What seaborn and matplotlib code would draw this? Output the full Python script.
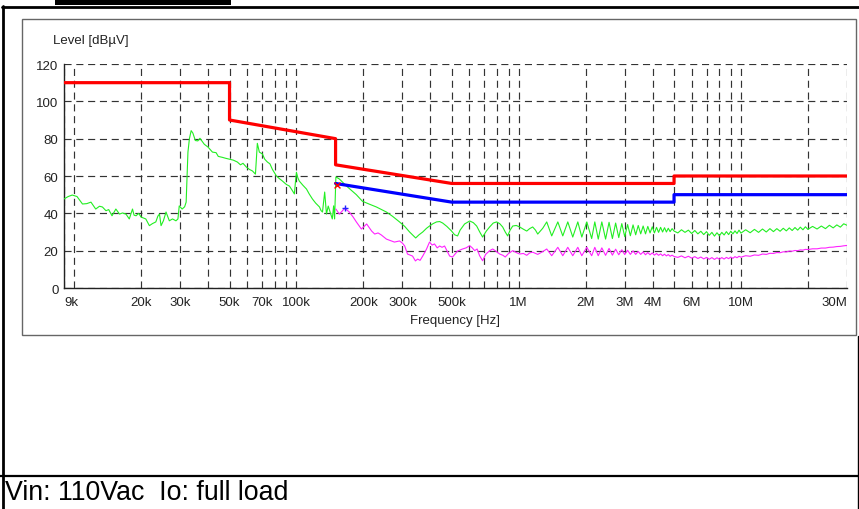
import numpy as np
import matplotlib
matplotlib.use("Agg")
import matplotlib.pyplot as plt
import seaborn as sns
from matplotlib.patches import Rectangle
from matplotlib.lines import Line2D

# ---------------- data ----------------
# limit lines (kHz, dBuV)
qp_limit_khz = [9, 50, 50, 150, 150, 500, 5000, 5000, 30000]
qp_limit_db = [110, 110, 90, 80, 66, 56, 56, 60, 60]
av_limit_khz = [150, 500, 5000, 5000, 30000]
av_limit_db = [56, 46, 46, 50, 50]

# peak trace, 9k - 150k (kHz, dBuV)
green_lf_khz = [9.0, 9.4, 9.8, 10.3, 10.9, 11.4, 11.9, 12.5, 13.0, 13.4, 13.9, 14.3, 14.8, 15.4,
                16.0, 16.5, 17.1, 17.7, 18.3, 18.6, 19.0, 19.5, 20.0, 20.5, 21.0, 21.8, 22.5, 23.3,
                23.8, 24.2, 24.6, 25.2, 25.9, 26.8, 27.7, 28.7, 29.3, 29.7, 30.6, 31.4, 31.9, 32.5,
                33.0, 33.6, 34.2, 35.1, 36.0, 36.8, 38.5, 40.0, 41.9, 43.5, 44.5, 46.4, 48.0, 49.9,
                52.0, 54.2, 56.0, 57.5, 59.5, 61.5, 63.4, 65.4, 66.7, 68.1, 70.3, 72.0, 74.0, 76.0,
                78.0, 81.3, 84.0, 86.5, 90.0, 93.0, 95.5, 97.9, 99.0, 100.0, 101.5, 103.0, 107.0,
                111.0, 114.0, 118.0, 122.0, 127.0, 129.0, 131.0, 134.0, 136.5, 139.0, 142.0, 145.0,
                147.0, 148.5]
green_lf_db = [47.7, 49.0, 49.8, 49.0, 45.0, 45.2, 46.0, 42.3, 43.8, 43.4, 41.4, 42.0, 38.7, 42.3,
               39.6, 40.2, 39.6, 37.0, 42.3, 39.0, 38.7, 40.0, 38.0, 37.5, 37.0, 33.4, 34.5, 35.4,
               38.5, 39.6, 33.4, 36.0, 40.7, 36.0, 37.0, 36.0, 37.0, 44.0, 42.3, 43.5, 46.0, 72.8,
               80.0, 84.3, 83.0, 79.0, 78.8, 80.2, 77.0, 75.5, 72.8, 72.5, 70.5, 70.0, 69.5, 69.0,
               68.5, 67.5, 66.0, 66.8, 64.8, 63.5, 62.7, 61.0, 77.5, 72.8, 71.8, 69.0, 67.5, 66.5,
               63.5, 60.0, 58.5, 57.3, 55.5, 54.6, 52.5, 50.4, 57.0, 62.0, 59.0, 57.3, 55.0,
               53.0, 50.5, 47.7, 45.5, 43.4, 41.5, 40.7, 51.4, 39.6, 43.9, 40.5, 37.0,
               44.0, 37.0]

# peak trace, 150k - 5M (kHz, dBuV)
green_hf_khz = [150.5, 156, 168, 178, 186, 198, 212, 229, 254, 270, 291, 307, 323, 344, 356, 370,
                385, 397, 412, 427, 441, 455, 475, 499, 515, 531, 545, 571, 602, 625, 647, 668,
                688, 715, 740, 768, 796, 821, 847, 870, 892, 915, 940, 975, 1010, 1050, 1087,
                1120, 1156, 1190, 1218, 1283, 1337, 1408, 1500, 1579, 1663, 1751, 1845, 1923,
                2025, 2130, 2200, 2280, 2366, 2460, 2550, 2640, 2730, 2820, 2910, 3000, 3090,
                3180, 3270, 3360, 3450, 3540, 3630, 3720, 3810, 3900, 3990, 4080, 4170, 4260,
                4350, 4440, 4530, 4620, 4710, 4800, 4900, 5000]
green_hf_db = [59.5, 58.4, 54.6, 52.0, 50.0, 46.5, 45.0, 43.4, 40.7, 38.5, 35.4, 33.0, 30.0, 26.8,
               28.5, 30.0, 32.0, 33.2, 34.5, 35.4, 35.6, 34.8, 33.0, 30.5, 28.5, 27.9, 31.0, 34.3,
               35.9, 35.0, 33.2, 30.0, 27.3, 30.5, 32.7, 34.8, 35.4, 34.5, 32.7, 30.0, 27.9, 31.0,
               33.2, 33.5, 32.7, 31.5, 30.5, 31.8, 32.7, 31.0, 28.9, 32.0, 35.4, 27.9, 35.4, 27.9,
               35.4, 27.3, 35.4, 27.3, 35.4, 26.5, 35.4, 26.2, 35.4, 26.2, 35.2, 26.5, 34.8, 27.0,
               34.5, 27.5, 34.0, 28.0, 33.8, 28.5, 33.5, 29.0, 33.2, 29.0, 33.0, 29.5, 32.8, 29.5,
               32.5, 29.8, 32.5, 30.0, 32.3, 30.0, 32.0, 30.2, 31.8, 30.5]

# peak trace, 5M - 30M (MHz, dBuV)
green_noise_mhz = [5.2, 5.4, 5.6, 5.8, 6.0, 6.2, 6.4, 6.6, 6.8, 7.0, 7.2, 7.4, 7.6, 7.8, 8.0, 8.2,
                   8.4, 8.6, 8.8, 9.0, 9.2, 9.4, 9.6, 9.8, 10.0, 10.5, 11.0, 11.5, 12.0, 12.5, 13.0,
                   13.5, 14.0, 14.5, 15.0, 15.5, 16.0, 16.5, 17.0, 17.5, 18.0, 18.5, 19.0, 19.5,
                   20.0, 21, 22, 23, 24, 25, 26, 27, 28, 29, 30]
green_noise_db = [29.5, 31.2, 29.8, 31.0, 29.2, 30.8, 29.0, 30.4, 28.6, 30.2, 28.2, 29.8, 27.8, 29.6,
                  28.0, 29.8, 28.4, 30.2, 28.6, 30.4, 29.0, 30.6, 29.2, 31.0, 29.4, 31.2, 29.6, 31.4,
                  29.8, 31.6, 30.0, 31.8, 30.2, 31.8, 30.4, 32.0, 30.6, 32.2, 30.8, 32.4, 31.0, 32.6,
                  31.2, 32.8, 31.4, 33.0, 31.6, 33.2, 31.8, 33.6, 32.2, 33.8, 32.6, 34.4, 33.6]

# average trace, 150k - 5M (kHz, dBuV)
mag_hf_khz = [150.5, 156, 160, 165, 173, 180, 186, 196, 207, 218, 225, 233, 241, 254, 268, 276, 291,
              300, 307, 316, 333, 343, 351, 360, 370, 385, 397, 408, 418, 430, 441, 452, 464, 480,
              489, 504, 531, 559, 580, 602, 618, 634, 650, 667, 688, 710, 740, 764, 795, 821, 850,
              870, 900, 940, 975, 1010, 1050, 1087, 1120, 1156, 1190, 1218, 1283, 1337, 1408, 1500,
              1579, 1663, 1751, 1845, 1923, 2025, 2130, 2200, 2280, 2366, 2460, 2550, 2640, 2730,
              2820, 2910, 3000, 3090, 3180, 3270, 3360, 3450, 3540, 3630, 3720, 3810, 3900, 3990,
              4080, 4170, 4260, 4350, 4440, 4530, 4620, 4710, 4800, 4900, 5000]
mag_hf_db = [42.3, 39.6, 41.0, 42.7, 40.7, 38.0, 35.4, 31.6, 34.3, 30.5, 28.9, 29.5, 28.4, 26.2, 25.2,
             24.6, 25.2, 24.0, 22.5, 18.2, 17.1, 14.5, 15.5, 14.8, 17.1, 20.9, 24.6, 23.0, 23.6, 21.5,
             22.5, 21.8, 22.5, 19.0, 17.1, 16.6, 19.8, 20.9, 21.5, 22.7, 21.5, 20.0, 20.9, 17.3, 14.6,
             18.0, 20.0, 20.9, 19.5, 18.2, 17.5, 16.6, 18.5, 20.0, 19.0, 18.2, 18.5, 17.5, 18.8, 19.2,
             18.5, 18.0, 19.5, 20.9, 17.3, 21.8, 17.3, 21.8, 17.3, 21.8, 17.3, 21.8, 17.3, 21.8, 17.3,
             21.5, 17.5, 21.2, 17.6, 20.8, 17.8, 20.5, 17.9, 20.2, 18.0, 19.9, 18.0, 19.6, 18.0, 19.3,
             17.8, 19.0, 17.8, 18.8, 17.6, 18.5, 17.5, 18.3, 17.3, 18.1, 17.2, 17.9, 17.0, 17.6, 16.9]

# average trace, 5M - 30M (MHz, dBuV)
mag_noise_mhz = [5.2, 5.4, 5.6, 5.8, 6.0, 6.2, 6.4, 6.6, 6.8, 7.0, 7.2, 7.4, 7.6, 7.8, 8.0, 8.2,
                 8.4, 8.6, 8.8, 9.0, 9.2, 9.4, 9.6, 9.8, 10.0, 10.5, 11.0, 11.5, 12.0, 12.5, 13.0,
                 13.5, 14.0, 14.5, 15.0, 15.5, 16.0, 16.5, 17.0, 17.5, 18.0, 18.5, 19.0, 19.5,
                 20.0, 21, 22, 23, 24, 25, 26, 27, 28, 29, 30]
mag_noise_db = [16.4, 17.2, 16.2, 17.0, 16.0, 16.8, 15.8, 16.6, 15.6, 16.4, 15.4, 16.3, 15.3, 16.2,
                15.4, 16.3, 15.5, 16.4, 15.7, 16.6, 15.9, 16.8, 16.2, 17.0, 16.5, 17.3, 17.0, 17.7,
                17.5, 18.2, 18.0, 18.6, 18.5, 19.0, 18.9, 19.4, 19.3, 19.8, 19.7, 20.1, 20.0, 20.4,
                20.3, 20.7, 20.6, 21.0, 21.0, 21.4, 21.4, 21.8, 21.9, 22.2, 22.3, 22.6, 22.8]

# final measurement markers (kHz, dBuV)
qp_marker_khz = [153]
qp_marker_db = [55.4]
av_marker_khz = [166]
av_marker_db = [42.9]

# axis ticks
tick_hz = [9e3, 1e4, 2e4, 3e4, 4e4, 5e4, 6e4, 7e4, 8e4, 9e4,
           1e5, 2e5, 3e5, 4e5, 5e5, 6e5, 7e5, 8e5, 9e5,
           1e6, 2e6, 3e6, 4e6, 5e6, 6e6, 7e6, 8e6, 9e6, 1e7, 2e7, 3e7]
tick_labels = ["9k", "", "20k", "30k", "", "50k", "", "70k", "", "",
               "100k", "200k", "300k", "", "500k", "", "", "", "",
               "1M", "2M", "3M", "4M", "", "6M", "", "", "", "10M", "", "30M"]
y_ticks = [0, 20, 40, 60, 80, 100, 120]

# ---------------- figure ----------------
sns.set_theme(style="white")
plt.rcParams['font.family'] = ['Liberation Sans', 'DejaVu Sans']

W, H = 859, 510
fig = plt.figure(figsize=(W / 100, H / 100), dpi=100)


def fx(px):
    return px / W


def fy(py):
    return 1 - py / H


ax = fig.add_axes([fx(64), fy(289), fx(847) - fx(64), fy(65) - fy(289)])
ax.set_facecolor("white")

green_hz = np.concatenate([np.array(green_lf_khz) * 1e3, np.array(green_hf_khz) * 1e3,
                           np.array(green_noise_mhz) * 1e6])
green_db = np.concatenate([green_lf_db, green_hf_db, green_noise_db])
mag_hz = np.concatenate([np.array(mag_hf_khz) * 1e3, np.array(mag_noise_mhz) * 1e6])
mag_db = np.concatenate([mag_hf_db, mag_noise_db])

sns.lineplot(x=green_hz, y=green_db, ax=ax, color="#22ee22", linewidth=0.8,
             estimator=None, sort=False, zorder=3)
sns.lineplot(x=mag_hz, y=mag_db, ax=ax, color="#ff22ff", linewidth=0.8,
             estimator=None, sort=False, zorder=3)
sns.lineplot(x=np.array(qp_limit_khz) * 1e3, y=qp_limit_db, ax=ax, color="#ff0000",
             linewidth=2.3, estimator=None, sort=False, zorder=4)
sns.lineplot(x=np.array(av_limit_khz) * 1e3, y=av_limit_db, ax=ax, color="#0000ff",
             linewidth=2.3, estimator=None, sort=False, zorder=4)
sns.scatterplot(x=np.array(qp_marker_khz) * 1e3, y=qp_marker_db, ax=ax, marker="x",
                color="#ff0000", s=18, linewidth=1.0, zorder=5)
sns.scatterplot(x=np.array(av_marker_khz) * 1e3, y=av_marker_db, ax=ax, marker="+",
                color="#2222ff", s=22, linewidth=1.0, zorder=5)

ax.set_xscale("log")
ax.set_xlim(9e3, 3e7)
ax.set_ylim(0, 120)
ax.set_xticks(tick_hz)
ax.set_xticklabels(tick_labels)
ax.xaxis.set_minor_locator(matplotlib.ticker.NullLocator())
ax.set_yticks(y_ticks)
ax.set_yticklabels([str(v) for v in y_ticks])
ax.set_xlabel("")
ax.set_ylabel("")

ax.grid(True, which="major", color="#333333", linestyle=(0, (6, 4)), linewidth=0.85)
ax.tick_params(axis="both", which="major", labelsize=9.5, colors="#222222",
               direction="inout", length=4, width=0.8)
ax.tick_params(axis="x", pad=4)
ax.tick_params(axis="y", pad=2)
for s in ["top", "right"]:
    ax.spines[s].set_visible(False)
for s in ["left", "bottom"]:
    ax.spines[s].set_color("#222222")
    ax.spines[s].set_linewidth(1.0)

for lab in ax.get_xticklabels():
    if lab.get_text() == "9k":
        lab.set_horizontalalignment("left")
    elif lab.get_text() == "30M":
        lab.set_horizontalalignment("right")

fig.text(fx(53), fy(41), "Level [dBµV]", fontsize=9.5, color="#222222", ha="left", va="center")
fig.text(fx(455), fy(321), "Frequency [Hz]", fontsize=9.5, color="#222222", ha="center", va="center")

# decorations: frames
fig.add_artist(Rectangle((fx(22), fy(336)), fx(856) - fx(22), fy(20) - fy(336),
                         transform=fig.transFigure, fill=False, edgecolor="#666666", linewidth=1.0))
fig.add_artist(Rectangle((fx(55), fy(6)), fx(231) - fx(55), fy(0) - fy(6),
                         transform=fig.transFigure, facecolor="black", edgecolor="none"))
fig.add_artist(Line2D([fx(2), fx(859)], [fy(7.5), fy(7.5)], transform=fig.transFigure,
                      color="black", linewidth=2.0))
fig.add_artist(Line2D([fx(3.5), fx(3.5)], [fy(7), fy(510)], transform=fig.transFigure,
                      color="black", linewidth=2.0))
fig.add_artist(Line2D([fx(857.5), fx(857.5)], [fy(337), fy(510)], transform=fig.transFigure,
                      color="black", linewidth=1.0))
fig.add_artist(Line2D([fx(0), fx(859)], [fy(477), fy(477)], transform=fig.transFigure,
                      color="black", linewidth=1.6))

fig.text(fx(5), fy(493), "Vin: 110Vac  Io: full load", fontsize=19.3, color="black",
         ha="left", va="center")

fig.savefig("out.png", dpi=100, facecolor="white")
